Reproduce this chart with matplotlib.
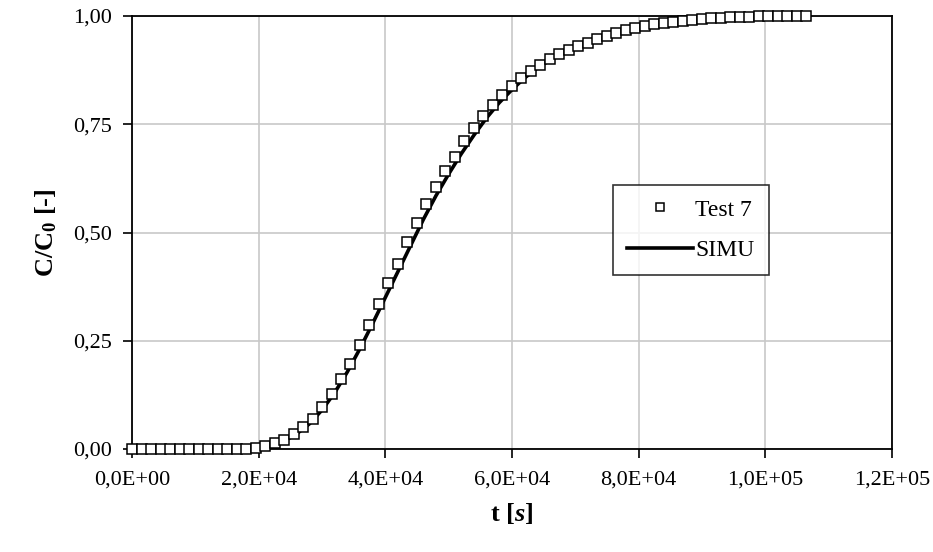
import matplotlib
matplotlib.use("Agg")
import matplotlib.pyplot as plt
from matplotlib.ticker import FuncFormatter

plt.rcParams['font.family'] = ['Liberation Serif', 'DejaVu Serif']
plt.rcParams['mathtext.fontset'] = 'custom'
plt.rcParams['mathtext.rm'] = 'Liberation Serif'
plt.rcParams['mathtext.it'] = 'Liberation Serif:italic:bold'
plt.rcParams['mathtext.bf'] = 'Liberation Serif:bold'

# Test 7 measurements (t in s, C/C0)
test_t = [0, 1500, 3000, 4500, 6000, 7500, 9000, 10500, 12000, 13500,
          15000, 16500, 18000, 19500, 21000, 22500, 24000, 25500, 27000, 28500,
          30000, 31500, 33000, 34500, 36000, 37500, 39000, 40500, 42000, 43500,
          45000, 46500, 48000, 49500, 51000, 52500, 54000, 55500, 57000, 58500,
          60000, 61500, 63000, 64500, 66000, 67500, 69000, 70500, 72000, 73500,
          75000, 76500, 78000, 79500, 81000, 82500, 84000, 85500, 87000, 88500,
          90000, 91500, 93000, 94500, 96000, 97500, 99000, 100500, 102000, 103500,
          105000, 106500]
test_c = [0, 0, 0, 0, 0, 0, 0, 0, 0, 0,
          0, 0, 0, 0.003, 0.006, 0.013, 0.02, 0.035, 0.051, 0.069,
          0.097, 0.127, 0.162, 0.197, 0.241, 0.287, 0.336, 0.384, 0.428, 0.477,
          0.521, 0.565, 0.604, 0.641, 0.674, 0.711, 0.741, 0.769, 0.794, 0.817,
          0.838, 0.856, 0.873, 0.887, 0.900, 0.912, 0.921, 0.930, 0.938, 0.946,
          0.953, 0.961, 0.967, 0.972, 0.977, 0.981, 0.983, 0.986, 0.989, 0.991,
          0.994, 0.995, 0.996, 0.997, 0.998, 0.998, 0.999, 0.999, 1.0, 1.0,
          1.0, 1.0]

# simulation
simu_t = [0, 4000, 8000, 12000, 16000, 18000, 20000, 22000, 24000, 26000,
          28000, 30000, 32000, 34000, 36000, 38000, 40000, 42000, 44000, 46000,
          48000, 50000, 52000, 54000, 56000, 58000, 60000, 62000, 64000, 66000,
          68000, 70000, 72000, 74000, 76000, 78000, 80000, 82000, 84000, 86000,
          88000, 90000, 92000, 94000, 96000, 98000, 100000, 102000, 104000, 106000]
simu_c = [0, 0, 0, 0, 0, 0, 0.001, 0.008, 0.018, 0.035,
          0.058, 0.09, 0.13, 0.178, 0.232, 0.29, 0.35, 0.41, 0.47, 0.53,
          0.585, 0.635, 0.682, 0.725, 0.765, 0.80, 0.83, 0.857, 0.88, 0.898,
          0.914, 0.928, 0.94, 0.95, 0.959, 0.967, 0.973, 0.979, 0.983, 0.987,
          0.99, 0.992, 0.994, 0.996, 0.997, 0.998, 0.999, 1.0, 1.0, 1.0]

fig = plt.figure(figsize=(9.33, 5.52), dpi=100)
ax = fig.add_axes([0.1415, 0.1866, 0.8145, 0.7844])

ax.plot(simu_t, simu_c, color='black', lw=2.6, label='SIMU', zorder=3)
ax.plot(test_t, test_c, ls='none', marker='s', ms=6.5, mfc='white', mec='black',
        mew=1.1, label='Test 7', zorder=4, clip_on=False)

ax.set_xlim(0, 120000)
ax.set_ylim(0, 1.0)
ax.set_xticks([0, 20000, 40000, 60000, 80000, 100000, 120000])
ax.set_yticks([0, 0.25, 0.5, 0.75, 1.0])


def xfmt(v, pos):
    s = '%.1E' % v
    return s.replace('.', ',')


ax.xaxis.set_major_formatter(FuncFormatter(xfmt))
ax.yaxis.set_major_formatter(FuncFormatter(lambda v, p: ('%.2f' % v).replace('.', ',')))

ax.grid(True, color='#c8c8c8', lw=1.2)
ax.set_axisbelow(True)
for sp in ax.spines.values():
    sp.set_linewidth(1.3)
ax.tick_params(direction='out', length=6.5, width=1.2, labelsize=16)
ax.tick_params(axis='y', pad=8)
ax.tick_params(axis='x', pad=9)

ax.set_xlabel('t [$\\mathit{s}$]', fontsize=19, fontweight='bold', labelpad=8)
ax.set_ylabel('C/C$_\\mathbf{0}$ [-]', fontsize=19, fontweight='bold', labelpad=10)

h, l = ax.get_legend_handles_labels()
leg = ax.legend([h[1], h[0]], [l[1], l[0]], loc='upper left',
                bbox_to_anchor=(0.617, 0.637), fontsize=17, frameon=True,
                fancybox=False, edgecolor='black', handlelength=2.8,
                handletextpad=0.1, borderpad=0.6, labelspacing=0.8, markerscale=0.8)
leg.get_frame().set_linewidth(1.2)

fig.savefig('out.png', dpi=100)
